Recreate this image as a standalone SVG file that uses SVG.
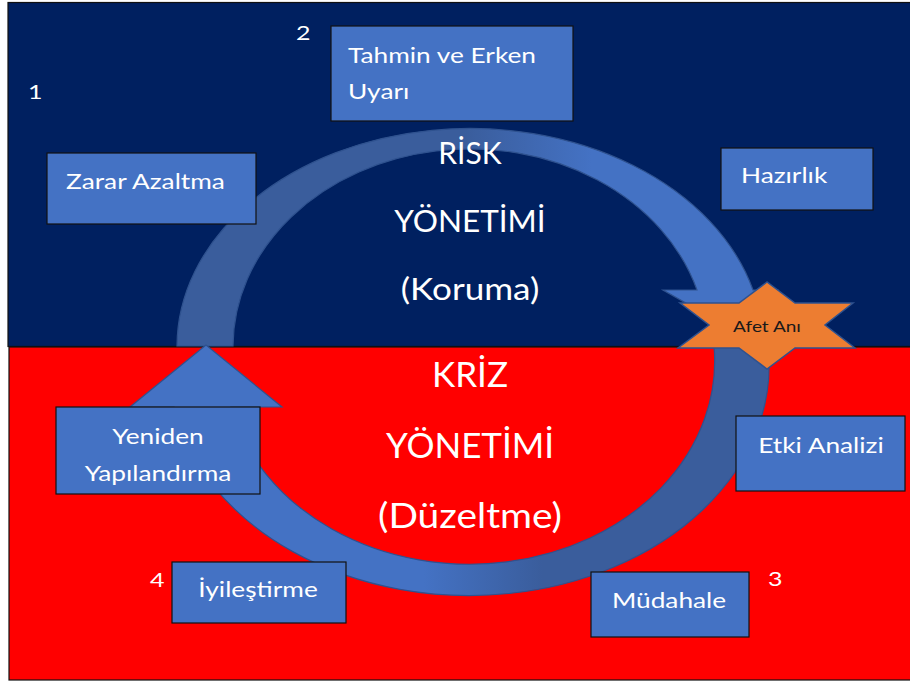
<svg xmlns="http://www.w3.org/2000/svg" width="910" height="681" viewBox="0 0 910 681">
  <style>
    .box { fill: #4472C4; stroke: #111111; stroke-width: 1.2; }
    .lbl { font-family: Lato, "Open Sans", sans-serif; fill: #FFFFFF; font-size: 21px; }
    .num { font-family: Lato, "Open Sans", sans-serif; fill: #FFFFFF; font-size: 20px; }
    .big { font-family: Lato, "Open Sans", sans-serif; fill: #FFFFFF; text-anchor: middle; }
    .mid { text-anchor: middle; }
    .arc { stroke: #2F528F; stroke-width: 1.2; }
  </style>
  <defs>
    <linearGradient id="gUpper" gradientUnits="userSpaceOnUse" x1="177" y1="0" x2="753" y2="0">
      <stop offset="0" stop-color="#3A5D9C"/>
      <stop offset="0.5" stop-color="#3A5D9C"/>
      <stop offset="0.72" stop-color="#4472C4"/>
      <stop offset="1" stop-color="#4472C4"/>
    </linearGradient>
    <linearGradient id="gLower" gradientUnits="userSpaceOnUse" x1="174" y1="0" x2="768" y2="0">
      <stop offset="0" stop-color="#4472C4"/>
      <stop offset="0.42" stop-color="#4472C4"/>
      <stop offset="0.62" stop-color="#3A5D9C"/>
      <stop offset="1" stop-color="#3A5D9C"/>
    </linearGradient>
  </defs>

  <!-- background panels -->
  <rect x="8" y="2.5" width="903" height="344" fill="#002060" stroke="#111111" stroke-width="1.2"/>
  <rect x="9" y="347" width="902" height="333" fill="#FF0000" stroke="#111111" stroke-width="1.2"/>

  <!-- cycle arrows -->
  <g id="connectors">
    <path id="arrow-risk" class="arc" fill="url(#gUpper)"
          d="M177,346 A293,218 0 0 1 753,290 L778,290 L760,345 L663,290 L697,290 A237,198 0 0 0 233,346 Z"/>
    <path id="arrow-kriz" class="arc" fill="url(#gLower)"
          d="M768,346 A300,230 0 0 1 174,407 L130,407 L206,345 L282,407 L231,407 A245,203 0 0 0 714,346 Z"/>
  </g>

  <!-- central titles (wide-set lettering) -->
  <g id="risk-title">
    <text class="big" transform="translate(470,164)" font-size="30">RİSK</text>
    <text class="big" transform="translate(470,232) scale(1.05,1)" font-size="30">YÖNETİMİ</text>
    <text class="big" transform="translate(470,300) scale(1.17,1)" font-size="30">(Koruma)</text>
  </g>
  <g id="kriz-title">
    <text class="big" transform="translate(470,387)" font-size="35">KRİZ</text>
    <text class="big" transform="translate(470,458)" font-size="35">YÖNETİMİ</text>
    <text class="big" transform="translate(470,528) scale(1.11,1)" font-size="35">(Düzeltme)</text>
  </g>

  <!-- step numbers -->
  <g id="numbers">
    <text class="num" transform="translate(28,99) scale(1.25,1)">1</text>
    <text class="num" transform="translate(296,40) scale(1.25,1)">2</text>
    <text class="num" transform="translate(768,586) scale(1.25,1)">3</text>
    <text class="num" transform="translate(150,587) scale(1.25,1)">4</text>
  </g>

  <g id="tahmin">
    <rect class="box" x="331" y="26" width="242" height="95"/>
    <text class="lbl" transform="translate(348,63) scale(1.25,1)">Tahmin ve Erken</text>
    <text class="lbl" transform="translate(348,99) scale(1.25,1)">Uyarı</text>
  </g>
  <g id="zarar">
    <rect class="box" x="47" y="153" width="209" height="71"/>
    <text class="lbl" transform="translate(66,189) scale(1.25,1)">Zarar Azaltma</text>
  </g>
  <g id="hazirlik">
    <rect class="box" x="721" y="148" width="152" height="62"/>
    <text class="lbl" transform="translate(741,183) scale(1.25,1)">Hazırlık</text>
  </g>
  <g id="yeniden">
    <rect class="box" x="56" y="407" width="204" height="87"/>
    <text class="lbl mid" transform="translate(158,444) scale(1.25,1)">Yeniden</text>
    <text class="lbl mid" transform="translate(158,481) scale(1.25,1)">Yapılandırma</text>
  </g>
  <g id="etki">
    <rect class="box" x="736" y="416" width="169" height="75"/>
    <text class="lbl mid" transform="translate(821,453) scale(1.25,1)">Etki Analizi</text>
  </g>
  <g id="iyilestirme">
    <rect class="box" x="172" y="562" width="174" height="61"/>
    <text class="lbl mid" transform="translate(258,597) scale(1.25,1)">İyileştirme</text>
  </g>
  <g id="mudahale">
    <rect class="box" x="591" y="572" width="158" height="65"/>
    <text class="lbl mid" transform="translate(669,608) scale(1.25,1)">Müdahale</text>
  </g>

  <g id="afet-ani">
    <polygon points="767,282 739,303 680,303 709,325 678,348 739,348 767,369 795,348 855,348 825,325 853,303 795,303"
             fill="#ED7D31" stroke="#2F528F" stroke-width="1.5"/>
    <text transform="translate(767,332) scale(1.27,1)" text-anchor="middle" font-family="Lato, 'Open Sans', sans-serif" font-size="15" fill="#1A1A1A">Afet Anı</text>
  </g>
</svg>
